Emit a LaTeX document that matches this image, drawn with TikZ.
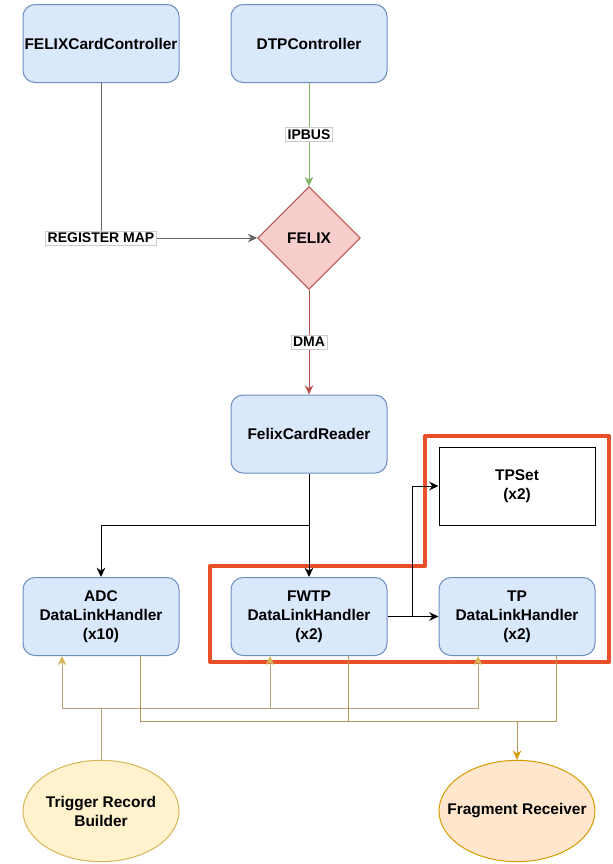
\documentclass[tikz,border=0pt]{standalone}
\usepackage{fontspec}
\setmainfont{Liberation Sans}
\usepackage{tikz}
\usetikzlibrary{arrows.meta}
\usetikzlibrary{shapes.geometric}
\usetikzlibrary{positioning}
\definecolor{blockfill}{HTML}{DAE8FC}
\definecolor{blockline}{HTML}{6C8EBF}
\definecolor{felixfill}{HTML}{F8CECC}
\definecolor{felixline}{HTML}{B85450}
\definecolor{busgreen}{HTML}{82B366}
\definecolor{trigfill}{HTML}{FFF2CC}
\definecolor{trigline}{HTML}{D6B656}
\definecolor{trigwire}{HTML}{B5A579}
\definecolor{fragfill}{HTML}{FFE6CC}
\definecolor{fragline}{HTML}{D79B00}
\definecolor{fragwire}{HTML}{B3965A}
\definecolor{groupline}{HTML}{E9502A}
\tikzset{boldtext/.style = {font=\bfseries\fontsize{11.6}{14.3}\selectfont, align=center},
         block/.style = {boldtext, draw=blockline, fill=blockfill, rounded corners=9pt,
                         line width=0.75pt, minimum width=117pt, minimum height=58.5pt,
                         inner xsep=0pt},
         blob/.style = {ellipse, line width=0.75pt, minimum width=117pt, minimum height=76pt},
         tag/.style = {fill=white, draw=black!20, text=black, line width=0.4pt, inner sep=1.5pt,
                       font=\bfseries\fontsize{10.5}{12}\selectfont},
         arr/.style = {line width=0.75pt, -{Stealth[length=7pt, width=6.5pt]}},
         trig/.style = {draw=trigwire, line width=0.75pt},
         frag/.style = {draw=fragwire, line width=0.75pt}}

\begin{document}
\begin{tikzpicture}[x=0.75pt, y=-0.75pt]
     \useasboundingbox (0, 0) rectangle (612, 864);
     \draw [groupline, line width=3pt, line join=round]
          (210, 566) -- (425, 566) -- (425, 436) -- (609, 436) -- (609, 662) -- (210, 662) -- cycle;
     \node [block] (fcc) at (101, 43.5) {FELIXCardController};
     \node [block] (dtp) at (309, 43.5) {DTPController};
     \node [diamond, boldtext, draw=felixline, fill=felixfill, line width=0.75pt, inner sep=0pt,
            minimum width=77pt, minimum height=77pt] (felix) at (309, 238) {FELIX};
     \node [block] (reader) at (309, 434) {FelixCardReader};
     \node [block] (adc) at (101, 616.5) {ADC\\DataLinkHandler\\(x10)};
     \node [block] (fwtp) at (309, 616.5) {FWTP\\DataLinkHandler\\(x2)};
     \node [block] (tp) at (517, 616.5) {TP\\DataLinkHandler\\(x2)};
     \node [block, rounded corners=0pt, draw=black, fill=white] (tpset) at (517, 486) {TPSet\\(x2)};
     \node [blob, draw=trigline, fill=trigfill] (trb) at (101, 811) {};
     \node [boldtext] (trbtext) at (trb) {Trigger Record\\Builder};
     \node [blob, draw=fragline, fill=fragfill] (fr) at (517, 811) {};
     \node [boldtext] (frtext) at (fr) {Fragment Receiver};
     \draw [arr, busgreen] (dtp) -- node [tag] {IPBUS} (felix);
     \draw [arr, black!60] (fcc) |- node [tag, pos=0.5] {REGISTER MAP} (felix);
     \draw [arr, felixline] (felix) -- node [tag] {DMA} (reader);
     \coordinate (split) at (309, 525);
     \draw [arr] (reader) -- (split) -| (adc);
     \draw [arr] (split) -- (fwtp);
     \coordinate (fork) at (412, 616.5);
     \draw [arr] (fwtp) -- (tp);
     \draw [arr] (fork) |- (tpset);
     \coordinate (tbus) at (101, 708);
     \coordinate (fbus) at (517, 721);
     \draw [trig] (trb) -- (tbus);
     \draw [trig, -{Stealth[length=7pt, width=6.5pt, color=trigline]}] (tbus) -| ([xshift=-29.25pt]adc.south);
     \draw [trig, -{Stealth[length=7pt, width=6.5pt, color=trigline]}] (tbus) -| ([xshift=-29.25pt]fwtp.south);
     \draw [trig, -{Stealth[length=7pt, width=6.5pt, color=trigline]}] (tbus) -| ([xshift=-29.25pt]tp.south);
     \draw [frag] ([xshift=29.25pt]adc.south) |- (fbus);
     \draw [frag] ([xshift=29.25pt]fwtp.south) |- (fbus);
     \draw [frag] ([xshift=29.25pt]tp.south) |- (fbus);
     \draw [frag, -{Stealth[length=7pt, width=6.5pt, color=fragline]}] (fbus) -- (fr);
\end{tikzpicture}
\end{document}
